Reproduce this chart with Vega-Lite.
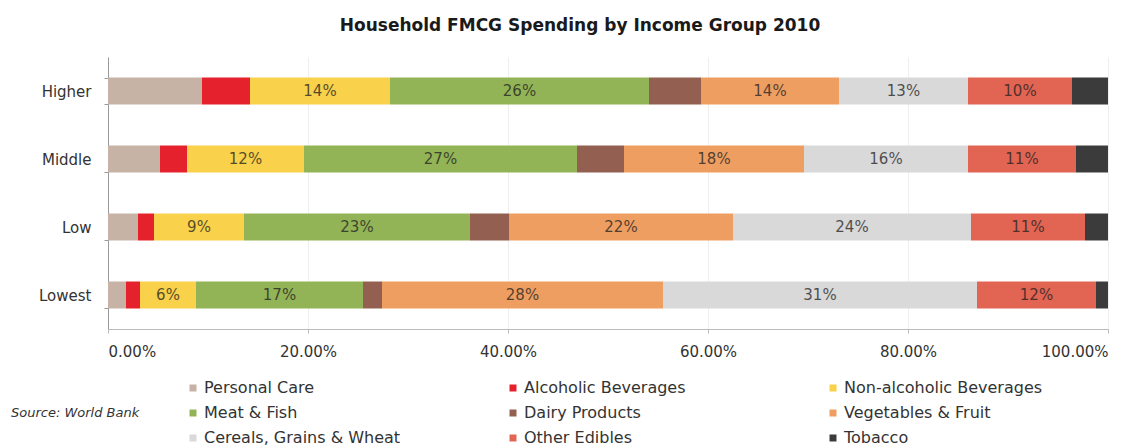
{
  "$schema": "https://vega.github.io/schema/vega-lite/v6.json",
  "width": 1000,
  "height": 272,
  "autosize": {"type": "none"},
  "padding": {"left": 108, "top": 57, "right": 37, "bottom": 118},
  "background": "white",
  "title": {
    "text": "Household FMCG Spending by Income Group 2010",
    "font": "DejaVu Sans",
    "fontSize": 17,
    "fontWeight": "bold",
    "color": "#1a1a1a",
    "anchor": "middle",
    "baseline": "alphabetic",
    "offset": 2,
    "dx": -28
  },
  "data": {
    "values": [
      {"group": "Higher", "category": "Personal Care", "value": 0.094},
      {"group": "Higher", "category": "Alcoholic Beverages", "value": 0.048},
      {"group": "Higher", "category": "Non-alcoholic Beverages", "value": 0.140},
      {"group": "Higher", "category": "Meat & Fish", "value": 0.259},
      {"group": "Higher", "category": "Dairy Products", "value": 0.052},
      {"group": "Higher", "category": "Vegetables & Fruit", "value": 0.138},
      {"group": "Higher", "category": "Cereals, Grains & Wheat", "value": 0.129},
      {"group": "Higher", "category": "Other Edibles", "value": 0.104},
      {"group": "Higher", "category": "Tobacco", "value": 0.036},
      {"group": "Middle", "category": "Personal Care", "value": 0.052},
      {"group": "Middle", "category": "Alcoholic Beverages", "value": 0.027},
      {"group": "Middle", "category": "Non-alcoholic Beverages", "value": 0.117},
      {"group": "Middle", "category": "Meat & Fish", "value": 0.273},
      {"group": "Middle", "category": "Dairy Products", "value": 0.047},
      {"group": "Middle", "category": "Vegetables & Fruit", "value": 0.180},
      {"group": "Middle", "category": "Cereals, Grains & Wheat", "value": 0.164},
      {"group": "Middle", "category": "Other Edibles", "value": 0.108},
      {"group": "Middle", "category": "Tobacco", "value": 0.032},
      {"group": "Low", "category": "Personal Care", "value": 0.030},
      {"group": "Low", "category": "Alcoholic Beverages", "value": 0.016},
      {"group": "Low", "category": "Non-alcoholic Beverages", "value": 0.090},
      {"group": "Low", "category": "Meat & Fish", "value": 0.226},
      {"group": "Low", "category": "Dairy Products", "value": 0.039},
      {"group": "Low", "category": "Vegetables & Fruit", "value": 0.224},
      {"group": "Low", "category": "Cereals, Grains & Wheat", "value": 0.238},
      {"group": "Low", "category": "Other Edibles", "value": 0.114},
      {"group": "Low", "category": "Tobacco", "value": 0.023},
      {"group": "Lowest", "category": "Personal Care", "value": 0.018},
      {"group": "Lowest", "category": "Alcoholic Beverages", "value": 0.014},
      {"group": "Lowest", "category": "Non-alcoholic Beverages", "value": 0.056},
      {"group": "Lowest", "category": "Meat & Fish", "value": 0.167},
      {"group": "Lowest", "category": "Dairy Products", "value": 0.019},
      {"group": "Lowest", "category": "Vegetables & Fruit", "value": 0.281},
      {"group": "Lowest", "category": "Cereals, Grains & Wheat", "value": 0.314},
      {"group": "Lowest", "category": "Other Edibles", "value": 0.119},
      {"group": "Lowest", "category": "Tobacco", "value": 0.012}
    ]
  },
  "transform": [
    {"calculate": "indexof(['Personal Care','Alcoholic Beverages','Non-alcoholic Beverages','Meat & Fish','Dairy Products','Vegetables & Fruit','Cereals, Grains & Wheat','Other Edibles','Tobacco'], datum.category)", "as": "idx"},
    {"stack": "value", "groupby": ["group"], "sort": [{"field": "idx", "order": "ascending"}], "as": ["v0", "v1"]},
    {"calculate": "(datum.v0 + datum.v1) / 2", "as": "mid"}
  ],
  "encoding": {
    "y": {
      "field": "group",
      "type": "nominal",
      "sort": ["Higher", "Middle", "Low", "Lowest"],
      "scale": {"paddingInner": 0.603, "paddingOuter": 0.3015},
      "axis": {
        "title": null,
        "labelFont": "DejaVu Sans",
        "labelFontSize": 15,
        "labelColor": "#333333",
        "labelPadding": 13,
        "tickBand": "extent",
        "tickSize": 4,
        "tickColor": "#999999",
        "domainColor": "#999999",
        "grid": false
      }
    }
  },
  "layer": [
    {
      "mark": {"type": "bar"},
      "encoding": {
        "x": {
          "field": "v0",
          "type": "quantitative",
          "scale": {"domain": [0, 1], "nice": false},
          "axis": {
            "title": null,
            "values": [0, 0.2, 0.4, 0.6, 0.8, 1],
            "format": ".2%",
            "labelFont": "DejaVu Sans",
            "labelFontSize": 15,
            "labelColor": "#333333",
            "labelPadding": 11,
            "tickSize": 4,
            "tickColor": "#bbbbbb",
            "domainColor": "#bbbbbb",
            "grid": true,
            "gridColor": "#eeeeee"
          }
        },
        "x2": {"field": "v1"},
        "color": {
          "field": "category",
          "type": "nominal",
          "scale": {
            "domain": ["Personal Care", "Alcoholic Beverages", "Non-alcoholic Beverages", "Meat & Fish", "Dairy Products", "Vegetables & Fruit", "Cereals, Grains & Wheat", "Other Edibles", "Tobacco"],
            "range": ["#c6b3a5", "#e4212c", "#f9d14b", "#93b456", "#935f50", "#ef9e62", "#d9d9d9", "#e26452", "#3b3b3b"]
          },
          "legend": {
            "orient": "none",
            "direction": "horizontal",
            "legendX": -97,
            "legendY": 323,
            "columns": 3,
            "gridAlign": "all",
            "columnPadding": 102,
            "rowPadding": 9,
            "symbolType": "square",
            "symbolSize": 49,
            "symbolStrokeWidth": 0,
            "labelFont": "DejaVu Sans",
            "labelFontSize": 16,
            "labelColor": "#333333",
            "labelOffset": 3,
            "labelLimit": 400,
            "title": "Source: World Bank",
            "titleOrient": "left",
            "titleAnchor": "middle",
            "titleBaseline": "middle",
            "titleFont": "DejaVu Sans",
            "titleFontSize": 13,
            "titleFontStyle": "italic",
            "titleFontWeight": "normal",
            "titleColor": "#333333",
            "titlePadding": 45
          }
        }
      }
    },
    {
      "transform": [{"filter": {"field": "category", "oneOf": ["Non-alcoholic Beverages", "Meat & Fish", "Vegetables & Fruit", "Cereals, Grains & Wheat", "Other Edibles"]}}],
      "mark": {"type": "text", "font": "DejaVu Sans", "fontSize": 15, "color": "#1e1e1e", "opacity": 0.75, "align": "center", "baseline": "middle"},
      "encoding": {
        "x": {"field": "mid", "type": "quantitative"},
        "text": {"field": "value", "type": "quantitative", "format": ".0%"}
      }
    }
  ],
  "config": {"view": {"stroke": null}}
}
